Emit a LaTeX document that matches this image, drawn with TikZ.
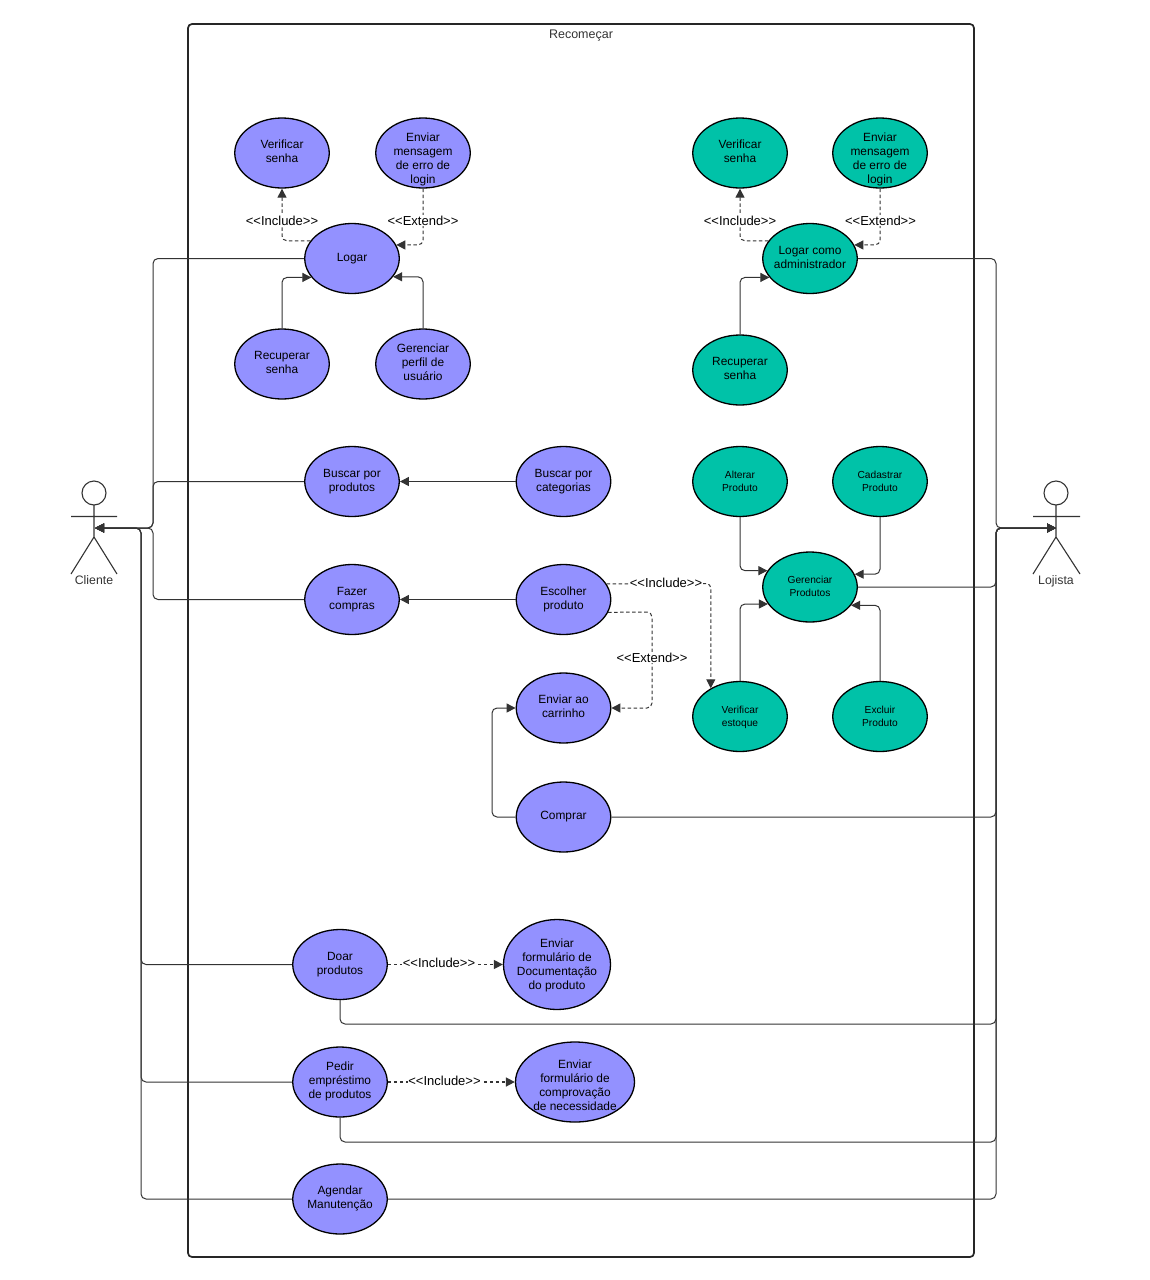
\documentclass[tikz,border=0pt]{standalone}
\usepackage{fontspec}
\setmainfont{Liberation Sans}
\usetikzlibrary{shapes.geometric,arrows.meta}
\definecolor{ucpurple}{HTML}{9391FF}
\definecolor{ucgreen}{HTML}{00C2A8}
\definecolor{ink}{HTML}{333333}
\newcommand{\uctext}[2][3pt]{\makebox[0pt]{\raisebox{-#1}[0pt][0pt]{\begin{tabular}{@{}c@{}}#2\end{tabular}}}}
\newcommand{\incl}{\textless\kern0pt\textless\kern0pt Include\textgreater\kern0pt\textgreater}
\newcommand{\extd}{\textless\kern0pt\textless\kern0pt Extend\textgreater\kern0pt\textgreater}
\tikzset{
  x=1pt,y=-1pt,
  usecase/.style={ellipse,draw=black,line width=1.3pt,inner sep=0pt,minimum width=94.5pt,minimum height=70pt,text=black,font=\fontsize{11.9}{14}\selectfont},
  pur/.style={usecase,fill=ucpurple},
  grn/.style={usecase,fill=ucgreen},
  small/.style={font=\fontsize{10.2}{13}\selectfont},
  conn/.style={draw=ink,line width=1pt,rounded corners=5pt},
  arr/.style={conn,-{Triangle[length=9pt,width=9pt]}},
  dep/.style={arr,dash pattern=on 3.5pt off 2.5pt},
  steo/.style={fill=white,inner sep=0.5pt,text=black,font=\fontsize{13}{15}\selectfont},
  actorline/.style={draw=ink,line width=1.1pt},
  actorname/.style={text=ink,anchor=base,font=\fontsize{12.3}{14}\selectfont},
}
\begin{document}
\begin{tikzpicture}
\useasboundingbox (0,0) rectangle (1150,1280);
% system frame
\node[draw=black!85,line width=1.7pt,rounded corners=4pt,minimum width=786pt,minimum height=1233pt,inner sep=0pt] (frame) at (581,640.5) {};
\node[text=ink,font=\fontsize{12.5}{14}\selectfont] (title) at (581,36) {Recomeçar};
% left block
\node[pur] (verif) at (282,153) {\uctext{Verificar\\senha}};
\node[pur] (erro) at (423,153) {\uctext[9.5pt]{Enviar\\mensagem\\de erro de\\login}};
\node[pur] (logar) at (352,258.5) {\uctext{Logar}};
\node[pur] (recup) at (282,364) {\uctext{Recuperar\\senha}};
\node[pur] (perfil) at (423,364) {\uctext{Gerenciar\\perfil de\\usuário}};
\node[pur] (busca) at (352,481.5) {\uctext{Buscar por\\produtos}};
\node[pur] (categ) at (563.5,481.5) {\uctext{Buscar por\\categorias}};
\node[pur] (fazer) at (352,599.5) {\uctext{Fazer\\compras}};
\node[pur] (escolher) at (563.5,599.5) {\uctext{Escolher\\produto}};
\node[pur] (carrinho) at (563.5,708) {\uctext{Enviar ao\\carrinho}};
\node[pur] (comprar) at (563.5,817) {\uctext{Comprar}};
\node[pur] (doar) at (340,964.5) {\uctext{Doar\\produtos}};
\node[pur,minimum width=107pt,minimum height=90pt] (formdoc) at (557,964.5) {\uctext[4pt]{Enviar\\formulário de\\Documentação\\do produto}};
\node[pur] (pedir) at (340,1082) {\uctext{Pedir\\empréstimo\\de produtos}};
\node[pur,minimum width=119pt,minimum height=80pt] (formneed) at (575,1082) {\uctext[7.5pt]{Enviar\\formulário de\\comprovação\\de necessidade}};
\node[pur] (agendar) at (340,1199) {\uctext{Agendar\\Manutenção}};
% right block
\node[grn] (gverif) at (740,153) {\uctext{Verificar\\senha}};
\node[grn] (gerro) at (880,153) {\uctext[9.5pt]{Enviar\\mensagem\\de erro de\\login}};
\node[grn] (glogar) at (810,258.5) {\uctext{Logar como\\administrador}};
\node[grn] (grecup) at (740,370) {\uctext{Recuperar\\senha}};
\node[grn,small] (alterar) at (740,481.5) {\uctext{Alterar\\Produto}};
\node[grn,small] (cadastrar) at (880,481.5) {\uctext{Cadastrar\\Produto}};
\node[grn,small] (gerprod) at (810,587) {\uctext{Gerenciar\\Produtos}};
\node[grn,small] (estoque) at (740,716.5) {\uctext{Verificar\\estoque}};
\node[grn,small] (excluir) at (880,716.5) {\uctext{Excluir\\Produto}};
% actors
\draw[actorline] (94,493) circle (12);
\draw[actorline] (94,505) -- (94,537) (71,516.5) -- (117,516.5) (71,574) -- (94,537) -- (117,574);
\node[actorname] (cname) at (94,584.5) {Cliente};
\coordinate (cliente) at (95,528);
\draw[actorline] (1056,493) circle (12);
\draw[actorline] (1056,505) -- (1056,537) (1033,516.5) -- (1080,516.5) (1033,574) -- (1056,537) -- (1080,574);
\node[actorname] (lname) at (1056,584.5) {Lojista};
\coordinate (lojista) at (1056,528);
% buses
\coordinate (busa) at (153,528);
\coordinate (busb) at (141,528);
\coordinate (busl) at (996,528);
\coordinate (dl) at (996,1024);
\coordinate (pl) at (996,1142);
% client connectors
\draw[arr] (logar.west) -| (busa) -- (cliente);
\draw[arr] (busca.west) -| (busa) -- (cliente);
\draw[arr] (fazer.west) -| (busa) -- (cliente);
\draw[arr] (doar.west) -| (busb) -- (cliente);
\draw[arr] (pedir.west) -| (busb) -- (cliente);
\draw[arr] (agendar.west) -| (busb) -- (cliente);
% shop connectors
\draw[arr] (glogar.east) -| (busl) -- (lojista);
\draw[arr] (gerprod.east) -| (busl) -- (lojista);
\draw[arr] (comprar.east) -| (busl) -- (lojista);
\draw[arr] (doar.south) |- (dl) -- (busl) -- (lojista);
\draw[arr] (pedir.south) |- (pl) -- (busl) -- (lojista);
\draw[arr] (agendar.east) -| (busl) -- (lojista);
% internal solid
\draw[arr] (recup.north) |- (logar.205);
\draw[arr] (perfil.north) |- (logar.336);
\draw[arr] (grecup.north) |- (glogar.205);
\draw[arr] (categ.west) -- (busca.east);
\draw[arr] (escolher.west) -- (fazer.east);
\draw[arr] (alterar.south) |- (gerprod.159);
\draw[arr] (cadastrar.south) |- (gerprod.16);
\draw[arr] (estoque.north) |- (gerprod.202);
\draw[arr] (excluir.north) |- (gerprod.336);
\coordinate (cb) at (492,817);
\draw[arr] (comprar.west) -- (cb) |- (carrinho.west);
% dependencies
\draw[dep] (logar.157) -| (verif.south);
\draw[dep] (erro.south) |- (logar.17);
\draw[dep] (glogar.157) -| (gverif.south);
\draw[dep] (gerro.south) |- (glogar.17);
\coordinate (ei) at (711,583.5);
\coordinate (ee) at (652,612);
\draw[dep] (escolher.20.6) -- (ei) -- (estoque.136.5);
\draw[dep] (escolher.344) -- (ee) |- (carrinho.east);
\draw[dep,line width=1.3pt] (doar.east) -- (formdoc.west);
\draw[dep,line width=1.6pt] (pedir.east) -- (formneed.west);
% stereotype labels
\node[steo] (li) at (282,220.5) {\incl};
\node[steo] (le) at (423,220.5) {\extd};
\node[steo] (gli) at (740,220.5) {\incl};
\node[steo] (gle) at (880.5,220.5) {\extd};
\node[steo] (lei) at (666,582.5) {\incl};
\node[steo] (lee) at (652,657.5) {\extd};
\node[steo] (ld) at (439,962.5) {\incl};
\node[steo] (lp) at (444.5,1080.5) {\incl};
\end{tikzpicture}
\end{document}
